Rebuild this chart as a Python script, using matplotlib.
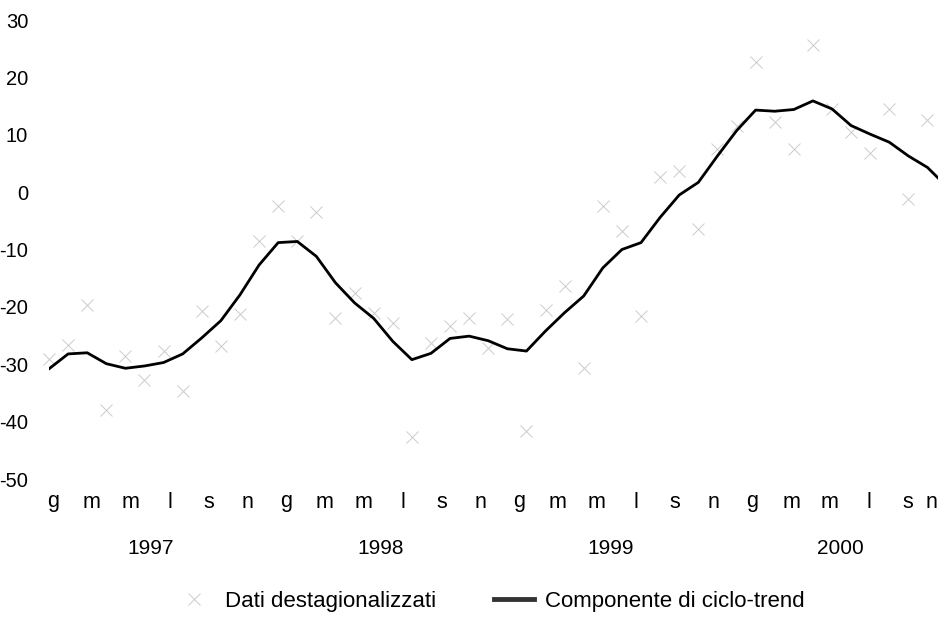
import numpy as np
import matplotlib
matplotlib.use("Agg")
import matplotlib.pyplot as plt
from matplotlib.lines import Line2D
from matplotlib.transforms import blended_transform_factory

# ---- data (monthly, Jan 1997 .. Dec 2000) ----
trend = [-30.8, -28.2, -28.0, -29.9, -30.7, -30.3, -29.7, -28.2, -25.4, -22.4, -17.9, -12.7,
         -8.8, -8.6, -11.2, -15.8, -19.3, -22.0, -26.0, -29.2, -28.1, -25.5, -25.1, -25.9,
         -27.3, -27.7, -24.2, -21.0, -18.1, -13.2, -10.0, -8.8, -4.4, -0.5, 1.7, 6.3,
         10.7, 14.3, 14.1, 14.4, 15.9, 14.5, 11.6, 10.1, 8.7, 6.3, 4.3, 1.0]
destag = [-29.0, -26.6, -19.6, -38.0, -28.6, -32.7, -27.7, -34.7, -20.7, -26.9, -21.2, -8.5,
          -2.4, -8.5, -3.5, -21.9, -17.5, -21.0, -22.8, -42.6, -26.3, -23.4, -21.9, -27.2,
          -22.2, -41.7, -20.5, -16.4, -30.7, -2.4, -6.7, -21.6, 2.6, 3.7, -6.5, 7.5,
          11.6, 22.7, 12.2, 7.5, 25.6, 14.5, 10.4, 6.9, 14.5, -1.2, 12.5]
month_labels = ["g", "m", "m", "l", "s", "n"] * 4
years = ["1997", "1998", "1999", "2000"]
yticks = [-50, -40, -30, -20, -10, 0, 10, 20, 30]

plt.rcParams['font.family'] = ['Liberation Sans', 'DejaVu Sans']

W, H = 938, 626
fig = plt.figure(figsize=(W / 100, H / 100), dpi=100)
ax = fig.add_axes([49 / W, (H - 479) / H, (W - 49) / W, (479 - 20) / H])

x_tr = np.arange(len(trend))
x_ds = np.arange(len(destag))

ax.plot(x_ds, destag, linestyle='none', marker='x', markersize=8, markeredgewidth=0.7,
        color='#cccccc', clip_on=False)
ax.plot(x_tr, trend, color='black', linewidth=2.0, solid_joinstyle='round')

ax.set_xlim(0, 46.55)
ax.set_ylim(-50, 30)
for s in ax.spines.values():
    s.set_visible(False)

ax.set_yticks(yticks)
ax.set_yticklabels([str(v) for v in yticks])
ax.tick_params(axis='y', length=0, pad=15, labelsize=14.5)

pos = [0.21 + 2.034 * k for k in range(len(month_labels))]
pos[-1] = 46.2
ax.set_xticks(pos)
ax.set_xticklabels(month_labels)
ax.tick_params(axis='x', length=0, pad=9, labelsize=15.5)

tr = blended_transform_factory(ax.transData, ax.transAxes)
for k, yv in enumerate(years):
    ax.text(5.3 + 12.05 * k, -0.152, yv, transform=tr, ha='center', va='center', fontsize=15)

handles = [Line2D([], [], linestyle='none', marker='x', markersize=8, markeredgewidth=0.7, color='#cccccc'),
           Line2D([], [], color='#333333', linewidth=3.5)]
fig.legend(handles, ["Dati destagionalizzati", "Componente di ciclo-trend"],
           loc='center', bbox_to_anchor=(489 / W, 1 - 601 / H), ncol=2, frameon=False,
           fontsize=16, handlelength=1.8, columnspacing=2.6, handletextpad=0.5)

fig.savefig("out.png", dpi=100)
